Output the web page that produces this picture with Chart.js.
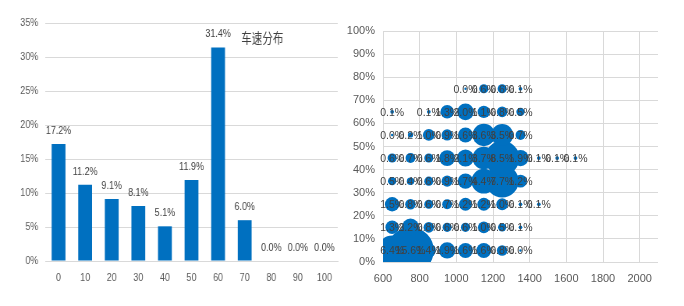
<!DOCTYPE html>
<html><head><meta charset="utf-8">
<script src="https://cdn.jsdelivr.net/npm/chart.js@4.4.1/dist/chart.umd.min.js"></script>
<style>
html,body{margin:0;padding:0;background:#fff;}
#wrap{position:relative;width:684px;height:306px;overflow:hidden;background:#fff;}
#b1{position:absolute;left:0;top:0;width:340px;height:306px;overflow:hidden;}
#s1{position:absolute;left:0;top:0;width:436px;height:306px;transform:scaleX(0.78);transform-origin:0 0;}
#b2{position:absolute;left:340px;top:0;width:344px;height:306px;}
canvas{display:block;}
</style></head><body>
<div id="wrap">
  <div id="b1"><div id="s1"><canvas id="c1" width="436" height="306"></canvas></div></div>
  <div id="b2"><canvas id="c2" width="344" height="306"></canvas></div>
</div>
<script>
// ---- Left chart: speed distribution ----
const speedCategories = ['0','10','20','30','40','50','60','70','80','90','100'];
const speedShare = [17.2, 11.2, 9.1, 8.1, 5.1, 11.9, 31.4, 6.0, 0.0, 0.0, 0.0];
const speedTitle = '车速分布';

// ---- Right chart: bubble distribution (x bins, y load rows, share %) ----
const rpmBins = [650, 750, 850, 950, 1050, 1150, 1250, 1350, 1450, 1550, 1650];
const loadRows = [5, 15, 25, 35, 45, 55, 65, 75];
const share05 = [6.4, 15.6, 1.4, 1.9, 1.6, 1.6, 0.8, 0.04, null, null, null];
const share15 = [1.3, 2.2, 0.8, 0.6, 0.6, 1.0, 0.5, 0.1, null, null, null];
const share25 = [1.5, 0.8, 0.6, 0.7, 1.2, 1.2, 1.0, 0.1, 0.1, null, null];
const share35 = [0.5, 0.4, 0.6, 0.9, 1.7, 4.4, 7.7, 1.2, null, null, null];
const share45 = [0.6, 0.7, 0.6, 1.8, 2.1, 3.7, 8.5, 1.9, 0.1, 0.1, 0.1];
const share55 = [0.04, 0.2, 1.0, 0.9, 1.6, 3.6, 3.5, 0.7, null, null, null];
const share65 = [0.1, null, 0.1, 1.3, 2.0, 1.1, 0.8, 0.5, null, null, null];
const share75 = [null, null, null, null, 0.04, 0.6, 0.6, 0.1, null, null, null];
const shareRows = [share05, share15, share25, share35, share45, share55, share65, share75];

const BLUE = '#0070C0';
const GRID = '#D9D9D9';
const TICK = '#595959';
const LABEL = '#404040';
const SANS = "'Liberation Sans', Arial, sans-serif";

Chart.defaults.font.family = SANS;
Chart.defaults.color = TICK;

const barLabels = {
  id: 'barLabels',
  afterDatasetsDraw(chart) {
    const ctx = chart.ctx;
    const meta = chart.getDatasetMeta(0);
    ctx.save();
    ctx.font = "11.5px " + SANS;
    ctx.fillStyle = LABEL;
    ctx.textAlign = 'center';
    ctx.textBaseline = 'alphabetic';
    meta.data.forEach((el, i) => {
      ctx.fillText(speedShare[i].toFixed(1) + '%', el.x, el.y - 10);
    });
    const a = chart.chartArea;
    ctx.font = "13.5px 'Noto Sans CJK SC', sans-serif";
    ctx.textBaseline = 'middle';
    ctx.fillText(speedTitle, a.left + 0.742 * (a.right - a.left), a.top + 14.5);
    ctx.restore();
  }
};

new Chart(document.getElementById('c1'), {
  type: 'bar',
  data: {
    labels: speedCategories,
    datasets: [{
      data: speedShare,
      backgroundColor: BLUE,
      borderWidth: 0,
      barPercentage: 0.52,
      categoryPercentage: 1.0
    }]
  },
  options: {
    responsive: false,
    animation: false,
    devicePixelRatio: 1,
    events: [],
    layout: { padding: { top: 23, right: 3, left: 0, bottom: 0 } },
    plugins: { legend: { display: false }, tooltip: { enabled: false }, title: { display: false } },
    scales: {
      y: {
        min: 0, max: 35,
        ticks: { stepSize: 5, callback: v => v + '%', color: TICK, font: { size: 11.5 }, padding: 9 },
        grid: { color: GRID, drawTicks: false },
        border: { display: false },
        afterFit: s => { s.width = 58; }
      },
      x: {
        ticks: { color: TICK, font: { size: 11.5 }, padding: 10 },
        grid: { display: false, drawTicks: false },
        border: { display: true, color: GRID },
        afterFit: s => { s.height = 45; }
      }
    }
  },
  plugins: [barLabels]
});

// ---- bubble chart ----
const bubblePoints = [];
shareRows.forEach((row, ri) => {
  row.forEach((v, ci) => {
    if (v !== null) bubblePoints.push({ x: rpmBins[ci], y: loadRows[ri], r: 5.9 * Math.sqrt(v), v: v });
  });
});

const bubbleLabels = {
  id: 'bubbleLabels',
  afterDatasetsDraw(chart) {
    const ctx = chart.ctx;
    const meta = chart.getDatasetMeta(0);
    ctx.save();
    ctx.font = "10.5px " + SANS;
    ctx.fillStyle = LABEL;
    ctx.textAlign = 'center';
    ctx.textBaseline = 'middle';
    meta.data.forEach((el, i) => {
      ctx.fillText(bubblePoints[i].v.toFixed(1) + '%', el.x, el.y + 1);
    });
    ctx.restore();
  }
};

new Chart(document.getElementById('c2'), {
  type: 'bubble',
  data: {
    datasets: [{
      data: bubblePoints,
      backgroundColor: BLUE,
      borderWidth: 0,
      clip: 0
    }]
  },
  options: {
    responsive: false,
    animation: false,
    devicePixelRatio: 1,
    events: [],
    layout: { padding: { top: 31, right: 26, left: 0, bottom: 0 } },
    plugins: { legend: { display: false }, tooltip: { enabled: false } },
    scales: {
      y: {
        type: 'linear', min: 0, max: 100,
        ticks: { stepSize: 10, callback: v => v + '%', color: TICK, font: { size: 11 }, padding: 8 },
        grid: { color: GRID, drawTicks: false },
        border: { display: false },
        afterFit: s => { s.width = 43; }
      },
      x: {
        type: 'linear', min: 600, max: 2100,
        ticks: { stepSize: 200, includeBounds: false, callback: v => String(v), color: TICK, font: { size: 11 }, padding: 10 },
        grid: { color: GRID, drawTicks: false },
        border: { display: false },
        afterFit: s => { s.height = 44; }
      }
    }
  },
  plugins: [bubbleLabels]
});
</script>
</body></html>
